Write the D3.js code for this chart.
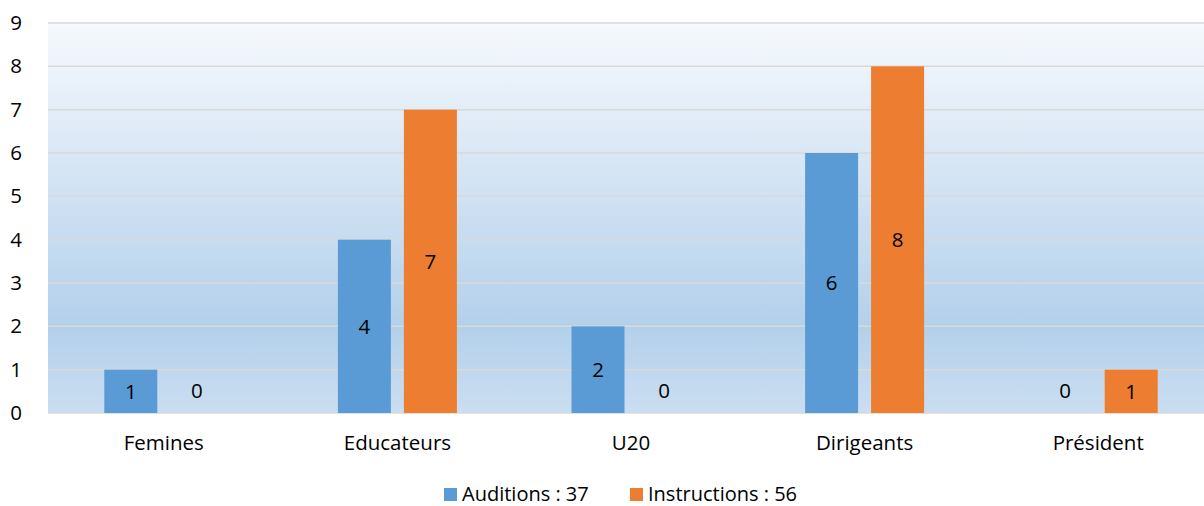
<!DOCTYPE html>
<html><head><meta charset="utf-8">
<script src="https://cdn.jsdelivr.net/npm/d3@7"></script>
<style>body{margin:0;background:#fff}svg{display:block}text{font-family:"Open Sans",sans-serif;fill:#000}</style>
</head><body>
<svg id="c" width="1204" height="506"></svg>
<script>
const categories = ["Femines","Educateurs","U20","Dirigeants","Président"];
const auditions = [1,4,2,6,0];
const instructions = [0,7,0,8,1];
const seriesNames = ["Auditions : 37","Instructions : 56"];
const colors = ["#5b9bd5","#ed7d31"];
const yTicks = [0,1,2,3,4,5,6,7,8,9];

const FONT = "'Open Sans',sans-serif";
const FS = 20.5;
const svg = d3.select("#c");
const W = 1204, H = 506;
const plotL = 48;
const x = d3.scaleBand().domain(categories).range([47, 1215]);
const y = d3.scaleLinear().domain([0,9]).range([413, 23]);

const defs = svg.append("defs");
const g = defs.append("linearGradient").attr("id","bg").attr("x1",0).attr("y1",0).attr("x2",0).attr("y2",1);
g.append("stop").attr("offset","0%").attr("stop-color","#f6f9fd");
g.append("stop").attr("offset","78%").attr("stop-color","#b3d0eb");
g.append("stop").attr("offset","100%").attr("stop-color","#cbdef1");
svg.append("rect").attr("x",plotL).attr("y",y(9)).attr("width",W-plotL).attr("height",y(0)-y(9)).attr("fill","url(#bg)");

svg.append("g").selectAll("line").data(yTicks).join("line")
  .attr("x1",plotL).attr("x2",W).attr("y1",d=>y(d)).attr("y2",d=>y(d))
  .attr("stroke","#d9d9d9").attr("stroke-width",1.5);

const yAxis = svg.append("g").attr("transform",`translate(${plotL},0)`)
  .call(d3.axisLeft(y).tickValues(yTicks).tickSize(0).tickPadding(27));
yAxis.select(".domain").remove();
yAxis.selectAll("text").attr("font-size",FS).attr("text-anchor","middle").attr("dx",-5).style("font-family",FONT);

const xAxis = svg.append("g").attr("transform",`translate(0,${y(0)})`)
  .call(d3.axisBottom(x).tickSize(0).tickPadding(22));
xAxis.select(".domain").remove();
xAxis.selectAll("text").attr("font-size",FS).style("font-family",FONT);

const bw = 53, gap = 13;
const series = [auditions, instructions];
series.forEach((vals,si)=>{
  const off = si===0 ? -gap/2-bw : gap/2;
  const gg = svg.append("g");
  gg.selectAll("rect").data(categories).join("rect")
    .attr("x",c=>x(c)+x.bandwidth()/2+off).attr("width",bw)
    .attr("y",(c,i)=>y(vals[i])).attr("height",(c,i)=>y(0)-y(vals[i]))
    .attr("fill",colors[si]);
  gg.selectAll("text").data(categories).join("text")
    .attr("x",c=>x(c)+x.bandwidth()/2+off+bw/2)
    .attr("y",(c,i)=>vals[i]===0 ? y(0)-22 : (y(vals[i])+y(0))/2)
    .attr("dy","0.35em").attr("text-anchor","middle").attr("font-size",FS)
    .text((c,i)=>vals[i]);
});

const lg = svg.append("g");
const items = [{x:444,name:seriesNames[0],c:colors[0]},{x:630,name:seriesNames[1],c:colors[1]}];
items.forEach(it=>{
  lg.append("rect").attr("x",it.x).attr("y",488).attr("width",13).attr("height",13).attr("fill",it.c);
  lg.append("text").attr("x",it.x+18).attr("y",494).attr("dy","0.35em").attr("font-size",20).text(it.name);
});
</script>
</body></html>
